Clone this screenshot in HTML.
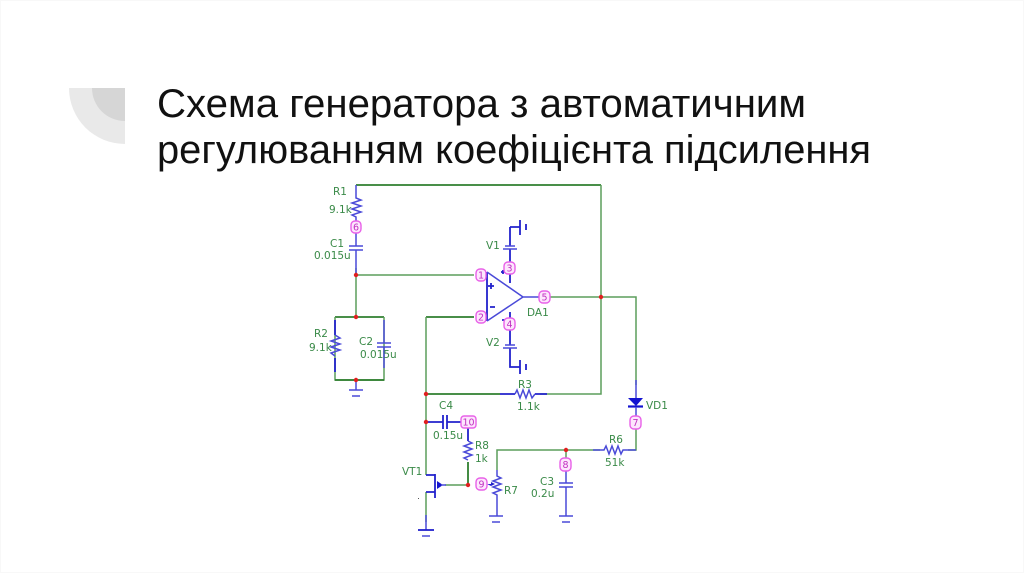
<!DOCTYPE html>
<html><head><meta charset="utf-8">
<style>
html,body{margin:0;padding:0;background:#fff}
body{width:1024px;height:574px;overflow:hidden;position:relative}
svg{position:absolute;left:0;top:0}
.t{font-family:"Liberation Sans",sans-serif;font-size:40px;fill:#111}
.l{font-family:"DejaVu Sans","Liberation Sans",sans-serif;font-size:10.5px;fill:#3a8a48}
.p{font-family:"DejaVu Sans","Liberation Sans",sans-serif;font-size:9.5px;fill:#c030c0;text-anchor:middle}
.g{fill:none;stroke:#5c9e5c;stroke-width:1.5}
.dg{fill:none;stroke:#2f7f2f;stroke-width:1.8}
.b{fill:none;stroke:#4a4ad8;stroke-width:1.5}
.db{fill:none;stroke:#2222cc;stroke-width:1.8}
.pin{fill:#fde6fd;stroke:#e860e8;stroke-width:1.4}
.j{fill:#e02020}
</style></head>
<body>
<svg width="1024" height="574" viewBox="0 0 1024 574" xmlns="http://www.w3.org/2000/svg">
<rect x="0.5" y="0.5" width="1023" height="572" fill="#fff" stroke="#f8f8f8"/>
<path d="M69 88H125V144A56 56 0 0 1 69 88Z" fill="#e9e9e9"/>
<path d="M92 88H125V121A33 33 0 0 1 92 88Z" fill="#d6d6d6"/>
<text class="t" x="157" y="117" textLength="649" lengthAdjust="spacingAndGlyphs">Схема генератора з автоматичним</text>
<text class="t" x="157" y="163" textLength="714" lengthAdjust="spacingAndGlyphs">регулюванням коефіцієнта підсилення</text>

<!-- green wires -->
<path class="dg" d="M356 185H601"/>
<path class="g" d="M601 185V394H540"/>
<path class="g" d="M356 268V317M356 275H474"/>
<path class="dg" d="M335 317H384"/>
<path class="g" d="M384 317V380H335V317"/>
<path class="dg" d="M335 380H384M426 317H474"/>
<path class="g" d="M426 317V475M426 492V522"/>
<path class="dg" d="M426 394H500"/>
<path class="g" d="M550 297H636V385"/>
<path class="g" d="M636 428V450H628M600 450H497V470"/>
<path class="g" d="M566 450V458M445 485H468"/>
<path class="dg" d="M468 462V485"/>

<!-- blue parts -->
<path class="b" d="M356 185V198l5 2-9 3 9 3-9 3 9 3-9 3 4 2V221M356 233V246M349 246H363M349 250H363M356 250V275"/>
<path class="db" d="M335 320V335M335 358V372"/>
<path class="b" d="M335 335l5 3-9 3 9 3-9 3 9 3-9 3 4 3"/>
<path class="b" d="M384 320V343M377 343H391M377 347H391M384 347V368"/>
<path class="b" d="M356 380V390M349 390H363M352 396H360"/>

<!-- op-amp -->
<path class="db" d="M487 272V321"/>
<path class="b" d="M487 272L523 297L487 321M523 297H540"/>
<path class="db" d="M510 227H520M510 227V246M510 249V262M510 274V283M510 312V318M510 330V345M510 348V367H520"/>
<path class="b" d="M505 246H515M503 249H517M503 348H517M505 345H515"/>
<path class="db" d="M520 220V235M526 224V230M520 360V374M526 364V370"/>
<path class="db" d="M488 286H494M491 283V289M490 307H495M501 272H505M503 270V274M502 320H505" stroke-width="1"/>

<!-- R3 -->
<path class="db" d="M500 394H515M535 394H547"/>
<path class="b" d="M515 394l2-4 3 8 3-8 3 8 3-8 3 8 3-4"/>

<!-- diode -->
<path d="M628 398H643L636 406Z" fill="#1414d0"/>
<path d="M628 406.500H643" stroke="#1414d0" stroke-width="2.200" fill="none"/>
<path class="b" d="M636 380V398M636 407V416"/>

<!-- R6 -->
<path class="b" d="M593 450H604l2-4 3 8 3-8 3 8 3-8 3 8 2-4H636"/>

<!-- C3 -->
<path class="b" d="M566 470V483M559 483H573M559 487H573M566 487V516M559 516H573M562 522H570"/>

<!-- C4 -->
<path class="db" d="M426 422H443M447 422H461M443 415V429M447 415V429"/>
<path class="db" d="M468 428V441"/>
<path class="b" d="M468 441l4 2-8 3 8 3-8 3 8 3-8 3 4 2"/>

<!-- R7 -->
<path class="b" d="M497 470V476l4 2-8 3 8 3-8 3 8 3-8 3 4 2V516M489 516H503M492 522H500"/>
<path d="M487 484H491V482L495 484L491 486Z" fill="#2222cc"/>

<!-- JFET -->
<path class="db" d="M426 475H435M435 474V498M426 492H435"/>
<path d="M437 481L443 485L437 489Z" fill="#1414d0"/>
<path class="b" d="M441 485H446M426 515V530"/>
<path class="db" d="M418 530H434"/>
<path class="b" d="M422 536H430"/>
<rect x="418" y="498" width="1" height="1" fill="#555"/>

<!-- pins -->
<rect class="pin" x="351" y="221" width="10" height="12" rx="4"/><text class="p" x="356" y="230.500">6</text>
<rect class="pin" x="476" y="269" width="10" height="12" rx="4"/><text class="p" x="481" y="278.500">1</text>
<rect class="pin" x="476" y="311" width="10" height="12" rx="4"/><text class="p" x="481" y="320.500">2</text>
<rect class="pin" x="504" y="262" width="11" height="12" rx="4"/><text class="p" x="509.500" y="271.500">3</text>
<rect class="pin" x="504" y="318" width="11" height="12" rx="4"/><text class="p" x="509.500" y="327.500">4</text>
<rect class="pin" x="539" y="291" width="11" height="12" rx="4"/><text class="p" x="544.500" y="300.500">5</text>
<rect class="pin" x="630" y="416" width="11" height="13" rx="4"/><text class="p" x="635.500" y="426">7</text>
<rect class="pin" x="560" y="458" width="11" height="13" rx="4"/><text class="p" x="565.500" y="468">8</text>
<rect class="pin" x="476" y="478" width="11" height="12" rx="4"/><text class="p" x="481.500" y="487.500">9</text>
<rect class="pin" x="461" y="416" width="15" height="12" rx="3"/><text class="p" x="468.500" y="425.500">10</text>

<!-- junctions -->
<circle class="j" cx="356" cy="275" r="2.200"/>
<circle class="j" cx="356" cy="317" r="2.200"/>
<circle class="j" cx="356" cy="380" r="2.200"/>
<circle class="j" cx="601" cy="297" r="2.200"/>
<circle class="j" cx="426" cy="394" r="2.200"/>
<circle class="j" cx="426" cy="422" r="2.200"/>
<circle class="j" cx="468" cy="485" r="2.200"/>
<circle class="j" cx="566" cy="450" r="2.200"/>

<!-- labels -->
<text class="l" x="333" y="195">R1</text>
<text class="l" x="329" y="213">9.1k</text>
<text class="l" x="330" y="247">C1</text>
<text class="l" x="314" y="259">0.015u</text>
<text class="l" x="314" y="337">R2</text>
<text class="l" x="309" y="351">9.1k</text>
<text class="l" x="359" y="345">C2</text>
<text class="l" x="360" y="358">0.015u</text>
<text class="l" x="486" y="249">V1</text>
<text class="l" x="486" y="346">V2</text>
<text class="l" x="527" y="316">DA1</text>
<text class="l" x="518" y="388">R3</text>
<text class="l" x="517" y="410">1.1k</text>
<text class="l" x="646" y="409">VD1</text>
<text class="l" x="609" y="443">R6</text>
<text class="l" x="605" y="466">51k</text>
<text class="l" x="540" y="485">C3</text>
<text class="l" x="531" y="497">0.2u</text>
<text class="l" x="439" y="409">C4</text>
<text class="l" x="433" y="439">0.15u</text>
<text class="l" x="475" y="449">R8</text>
<text class="l" x="475" y="462">1k</text>
<text class="l" x="402" y="475">VT1</text>
<text class="l" x="504" y="494">R7</text>
</svg>
</body></html>
